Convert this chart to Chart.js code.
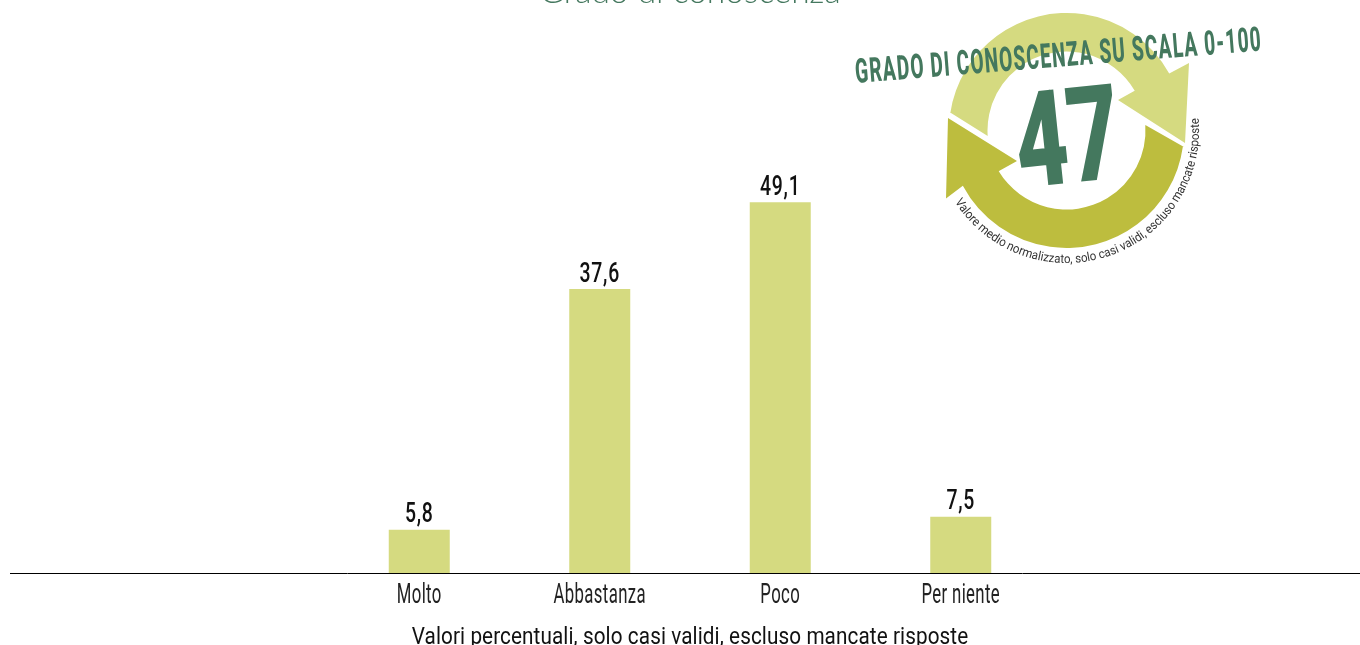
<!DOCTYPE html>
<html><head><meta charset="utf-8">
<style>html,body{margin:0;padding:0;background:#fff;overflow:hidden}canvas{display:block}</style>
<script src="https://cdn.jsdelivr.net/npm/chart.js@4"></script></head>
<body><canvas id="c" width="1360" height="645"></canvas>
<script>
const categories = ["Molto","Abbastanza","Poco","Per niente"];
const values = [5.8,37.6,49.1,7.5];
const chartTitle = "Grado di conoscenza";
const footerText = "Valori percentuali, solo casi validi, escluso mancate risposte";
const badgeHeading = "GRADO DI CONOSCENZA SU SCALA 0-100";
const badgeValue = "47";
const badgeNote = "Valore medio normalizzato, solo casi validi, escluso mancate risposte";
const BAR='#d5da80', LIGHT='#d5da80', DARK='#bdbd3e', GREEN='#44785e';

function fitText(ctx, text, x, y, width, rot, font, color, spacing){
  ctx.save(); ctx.font=font; ctx.letterSpacing=spacing||'0px'; ctx.fillStyle=color; ctx.textAlign='left'; ctx.textBaseline='alphabetic';
  const w=ctx.measureText(text).width;
  ctx.translate(x,y); ctx.rotate(rot); ctx.scale(width/w,1); ctx.fillText(text,0,0); ctx.restore();
}
function squeezed(ctx, text, cx, y, sx, font, color, spacing){
  ctx.save(); ctx.font=font; ctx.letterSpacing=spacing||'0px'; ctx.fillStyle=color; ctx.textAlign='center'; ctx.textBaseline='alphabetic';
  ctx.translate(cx,y); ctx.scale(sx,1); ctx.fillText(text,0,0); ctx.restore();
}
const overlay = {
  id:'overlay',
  afterDraw(chart){
    const ctx=chart.ctx, meta=chart.getDatasetMeta(0), xs=chart.scales.x;
    const mid=xs.left+(xs.right-xs.left)/2;
    ctx.save();
    // baseline
    ctx.strokeStyle='#000'; ctx.lineWidth=1; ctx.beginPath(); ctx.moveTo(10,573.5); ctx.lineTo(1360,573.5); ctx.stroke();
    // value labels and category labels
    meta.data.forEach((b,i)=>{
      squeezed(ctx,values[i].toFixed(1).replace('.',','),b.x,b.y-7.5,0.72,'500 27px Roboto','#111','1px');
      squeezed(ctx,categories[i],xs.getPixelForTick(i),603,0.62,'400 27px Roboto','#222','0.6px');
    });
    squeezed(ctx,footerText,mid,644,0.90,'400 23px Roboto','#111','0.1px');
    // title, cut by the top edge
    ctx.font='300 33.5px Lato'; ctx.fillStyle='#45785f'; ctx.textAlign='center';
    ctx.fillText(chartTitle, mid, 3);
    // badge
    const cx=1066.5, cy=130.5, R=117.5, r=79;
    const a=(x,y)=>Math.atan2(y-cy,x-cx);
    ctx.fillStyle=LIGHT; ctx.beginPath();
    ctx.moveTo(951,113);
    ctx.arc(cx,cy,R,a(951,113),a(1170,73));
    ctx.lineTo(1189,63); ctx.lineTo(1185,143); ctx.lineTo(1118,100); ctx.lineTo(1136,90);
    ctx.arc(cx,cy,r,a(1136,90),a(988,136),true);
    ctx.closePath(); ctx.fill();
    ctx.fillStyle=DARK; ctx.beginPath();
    ctx.moveTo(1184,147);
    ctx.arc(cx,cy,R,a(1184,147),a(955,190));
    ctx.lineTo(946,198.5); ctx.lineTo(948,118); ctx.lineTo(1017,161); ctx.lineTo(999,171);
    ctx.arc(cx,cy,r,a(999,171),a(1147,125),true);
    ctx.closePath(); ctx.fill();
    fitText(ctx,badgeValue,1020,188,105,-6*Math.PI/180,'900 133px Roboto',GREEN);
    fitText(ctx,badgeHeading,856,83,408,-4.6*Math.PI/180,'800 34px Roboto',GREEN,'2px');
    // curved note
    const font='400 12.5px Roboto';
    ctx.font=font; ctx.fillStyle='#333'; ctx.textAlign='left';
    const bR=132.5, start=a(956,201);
    const total=ctx.measureText(badgeNote).width;
    const sweep=Math.abs(start-a(1198,118));
    const k=sweep/total, sx=k*bR;
    for(let i=0;i<badgeNote.length;i++){
      const before=ctx.measureText(badgeNote.slice(0,i)).width;
      const w=ctx.measureText(badgeNote.slice(0,i+1)).width-before;
      const t=start-(before+w/2)*k;
      ctx.save();
      ctx.translate(cx+bR*Math.cos(t),cy+bR*Math.sin(t));
      ctx.rotate(t-Math.PI/2);
      ctx.scale(sx,1);
      ctx.fillText(badgeNote[i],-w/2,0);
      ctx.restore();
    }
    ctx.restore();
  }
};
new Chart(document.getElementById('c'),{
  type:'bar',
  data:{labels:categories,datasets:[{data:values,backgroundColor:BAR,barPercentage:1,categoryPercentage:61/180.5}]},
  plugins:[overlay],
  options:{
    responsive:false,animation:false,
    layout:{padding:{left:329,right:309,top:119.7,bottom:0}},
    plugins:{legend:{display:false},tooltip:{enabled:false},title:{display:false}},
    scales:{
      x:{grid:{display:false},border:{display:false},
         afterFit(s){s.height=71.5;},
         ticks:{display:false}},
      y:{display:false,min:0,max:60}
    }
  }
});
</script></body></html>
